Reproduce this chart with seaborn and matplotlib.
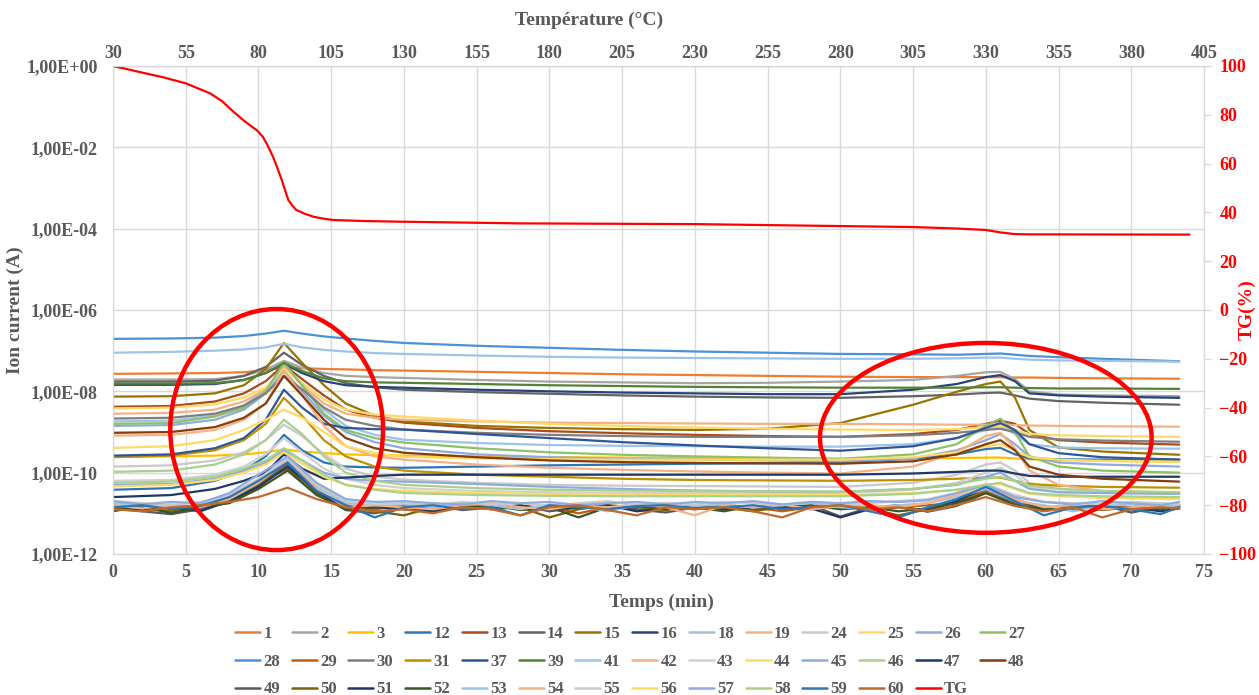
import numpy as np
import pandas as pd
import matplotlib
matplotlib.use("Agg")
import matplotlib.pyplot as plt
from matplotlib.patches import Ellipse
from matplotlib.lines import Line2D
from matplotlib.ticker import FixedLocator, NullLocator, FuncFormatter
import seaborn as sns

# ---- data (ion currents stored as log10 exponents) ----
t_smooth = [0, 4, 7, 9, 10.5, 11.75, 13, 14.5, 16, 18, 20, 25, 30, 35, 40,
            45, 50, 55, 58, 60, 61, 62, 63, 65, 68, 73.3]
t_noise = list(range(0, 73, 2)) + [73.3]

ion_28 = [-6.71, -6.70, -6.68, -6.64, -6.58, -6.51, -6.58, -6.65, -6.70, -6.76, -6.81, -6.88, -6.93, -6.98, -7.02,
          -7.05, -7.08, -7.09, -7.10, -7.08, -7.07, -7.10, -7.13, -7.16, -7.20, -7.26]
ion_41 = [-7.05, -7.03, -7.00, -6.97, -6.92, -6.83, -6.92, -6.98, -7.02, -7.06, -7.08, -7.12, -7.15, -7.17, -7.18,
          -7.19, -7.20, -7.20, -7.19, -7.17, -7.17, -7.20, -7.22, -7.24, -7.25, -7.27]
ion_1 = [-7.57, -7.56, -7.55, -7.53, -7.48, -7.42, -7.43, -7.45, -7.46, -7.48, -7.49, -7.52, -7.55, -7.58, -7.60,
         -7.62, -7.64, -7.65, -7.65, -7.65, -7.65, -7.66, -7.66, -7.67, -7.68, -7.69]
ion_2 = [-7.71, -7.71, -7.70, -7.62, -7.47, -7.25, -7.42, -7.55, -7.62, -7.65, -7.67, -7.72, -7.76, -7.78, -7.80,
         -7.79, -7.76, -7.72, -7.62, -7.53, -7.52, -7.70, -8.00, -8.08, -8.10, -8.12]
ion_14 = [-7.76, -7.76, -7.74, -7.62, -7.40, -7.05, -7.35, -7.62, -7.80, -7.90, -7.96, -8.02, -8.06, -8.10, -8.13,
          -8.15, -8.16, -8.12, -8.08, -8.04, -8.03, -8.10, -8.18, -8.24, -8.28, -8.33]
ion_39 = [-7.81, -7.81, -7.80, -7.72, -7.55, -7.30, -7.50, -7.68, -7.75, -7.78, -7.79, -7.82, -7.85, -7.87, -7.89,
          -7.90, -7.91, -7.91, -7.91, -7.90, -7.90, -7.91, -7.92, -7.93, -7.93, -7.94]
ion_16 = [-7.84, -7.84, -7.82, -7.72, -7.55, -7.32, -7.55, -7.75, -7.85, -7.89, -7.91, -7.96, -8.00, -8.03, -8.05,
          -8.07, -8.07, -7.96, -7.82, -7.65, -7.60, -7.75, -8.05, -8.10, -8.13, -8.16]
ion_15 = [-8.13, -8.12, -8.05, -7.85, -7.45, -6.81, -7.30, -7.85, -8.30, -8.60, -8.74, -8.85, -8.90, -8.93, -8.95,
          -8.92, -8.78, -8.33, -8.01, -7.82, -7.76, -8.15, -8.95, -9.38, -9.48, -9.56]
ion_13 = [-8.38, -8.36, -8.25, -8.05, -7.75, -7.35, -7.70, -8.10, -8.45, -8.65, -8.77, -8.90, -8.98, -9.03, -9.07,
          -9.10, -9.12, -9.05, -8.95, -8.80, -8.72, -8.80, -9.05, -9.20, -9.26, -9.31]
ion_19 = [-8.55, -8.53, -8.45, -8.25, -7.95, -7.40, -7.85, -8.30, -8.55, -8.65, -8.70, -8.74, -8.77, -8.78, -8.79,
          -8.80, -8.80, -8.81, -8.82, -8.82, -8.82, -8.83, -8.84, -8.85, -8.86, -8.87]
ion_25 = [-8.42, -8.40, -8.32, -8.15, -7.90, -7.45, -7.80, -8.20, -8.45, -8.57, -8.62, -8.72, -8.80, -8.85, -8.89,
          -8.92, -8.94, -8.95, -8.93, -8.88, -8.85, -8.95, -9.05, -9.08, -9.10, -9.12]
ion_30 = [-8.67, -8.65, -8.55, -8.35, -8.05, -7.62, -7.95, -8.40, -8.70, -8.85, -8.94, -9.02, -9.07, -9.10, -9.12,
          -9.12, -9.12, -9.08, -9.02, -8.95, -8.92, -9.00, -9.12, -9.18, -9.21, -9.24]
ion_18 = [-8.74, -8.72, -8.60, -8.35, -7.95, -7.35, -7.85, -8.45, -8.85, -9.07, -9.19, -9.27, -9.32, -9.34, -9.35,
          -9.36, -9.36, -9.30, -9.15, -8.95, -8.85, -9.05, -9.30, -9.38, -9.40, -9.41]
ion_26 = [-8.85, -8.83, -8.70, -8.45, -8.05, -7.50, -8.00, -8.60, -9.00, -9.25, -9.40, -9.55, -9.62, -9.66, -9.68,
          -9.70, -9.72, -9.65, -9.45, -9.20, -9.05, -9.30, -9.60, -9.75, -9.80, -9.85]
ion_27 = [-8.80, -8.78, -8.62, -8.40, -8.00, -7.30, -7.85, -8.55, -8.95, -9.15, -9.26, -9.40, -9.50, -9.56, -9.60,
          -9.63, -9.66, -9.55, -9.30, -8.85, -8.67, -9.00, -9.60, -9.85, -9.95, -10.00]
ion_37 = [-9.58, -9.55, -9.40, -9.15, -8.70, -7.96, -8.40, -8.80, -8.90, -8.93, -8.94, -9.05, -9.15, -9.25, -9.33,
          -9.40, -9.46, -9.35, -9.15, -8.90, -8.78, -8.95, -9.30, -9.52, -9.62, -9.68]
ion_48 = [-9.02, -9.00, -8.88, -8.65, -8.30, -7.62, -8.10, -8.70, -9.15, -9.40, -9.51, -9.62, -9.70, -9.74, -9.76,
          -9.77, -9.78, -9.72, -9.55, -9.30, -9.20, -9.45, -9.85, -10.05, -10.15, -10.22]
ion_42 = [-9.09, -9.07, -8.95, -8.70, -8.30, -7.50, -8.10, -8.85, -9.35, -9.60, -9.68, -9.80, -9.88, -9.93, -9.97,
          -10.00, -10.02, -9.85, -9.50, -9.10, -9.02, -9.40, -9.95, -10.30, -10.45, -10.49]
ion_44 = [-9.39, -9.35, -9.20, -8.95, -8.70, -8.45, -8.65, -9.00, -9.35, -9.52, -9.61, -9.65, -9.67, -9.68, -9.68,
          -9.68, -9.68, -9.62, -9.50, -9.35, -9.30, -9.45, -9.62, -9.68, -9.71, -9.73]
ion_3 = [-9.61, -9.60, -9.58, -9.55, -9.50, -9.43, -9.48, -9.52, -9.55, -9.57, -9.58, -9.60, -9.62, -9.63, -9.64,
         -9.65, -9.66, -9.65, -9.64, -9.63, -9.63, -9.65, -9.67, -9.69, -9.71, -9.73]
ion_31 = [-9.62, -9.58, -9.45, -9.20, -8.80, -8.16, -8.60, -9.20, -9.60, -9.85, -9.95, -10.05, -10.10, -10.15, -10.18,
          -10.19, -10.20, -10.18, -10.15, -10.12, -10.12, -10.20, -10.28, -10.32, -10.35, -10.37]
ion_24 = [-9.85, -9.82, -9.70, -9.50, -9.20, -8.82, -9.10, -9.55, -9.90, -10.10, -10.17, -10.25, -10.30, -10.32, -10.33,
          -10.34, -10.35, -10.25, -10.05, -9.80, -9.75, -9.95, -10.25, -10.40, -10.45, -10.50]
ion_46 = [-9.98, -9.95, -9.80, -9.55, -9.20, -8.70, -9.05, -9.60, -10.00, -10.20, -10.30, -10.38, -10.42, -10.44, -10.45,
          -10.46, -10.47, -10.40, -10.28, -10.15, -10.10, -10.20, -10.32, -10.40, -10.45, -10.48]
ion_12 = [-10.42, -10.38, -10.20, -9.95, -9.60, -9.07, -9.45, -9.75, -9.85, -9.87, -9.88, -9.85, -9.82, -9.80, -9.78,
          -9.77, -9.75, -9.65, -9.55, -9.42, -9.39, -9.55, -9.65, -9.67, -9.68, -9.68]
ion_45 = [-10.30, -10.28, -10.15, -9.95, -9.75, -9.45, -9.70, -10.00, -10.15, -10.20, -10.22, -10.28, -10.35, -10.40, -10.44,
          -10.46, -10.47, -10.40, -10.30, -10.10, -10.00, -10.20, -10.40, -10.48, -10.50, -10.52]
ion_58 = [-10.25, -10.22, -10.10, -9.90, -9.70, -9.40, -9.70, -10.05, -10.30, -10.42, -10.50, -10.55, -10.57, -10.58, -10.58,
          -10.58, -10.58, -10.52, -10.42, -10.30, -10.25, -10.38, -10.50, -10.55, -10.58, -10.60]
ion_56 = [-10.34, -10.30, -10.18, -10.00, -9.80, -9.50, -9.78, -10.10, -10.30, -10.40, -10.45, -10.50, -10.52, -10.54, -10.55,
          -10.55, -10.55, -10.50, -10.42, -10.30, -10.28, -10.40, -10.52, -10.58, -10.62, -10.65]
ion_47 = [-10.60, -10.55, -10.40, -10.20, -10.00, -9.55, -9.90, -10.15, -10.12, -10.08, -10.05, -10.05, -10.05, -10.05, -10.05,
          -10.05, -10.05, -10.02, -9.98, -9.95, -9.95, -10.02, -10.08, -10.10, -10.10, -10.10]
ion_43 = [-10.20, -10.18, -10.05, -9.85, -9.55, -9.15, -9.50, -9.90, -10.15, -10.30, -10.38, -10.45, -10.48, -10.50, -10.50,
          -10.50, -10.50, -10.42, -10.25, -10.00, -9.88, -10.05, -10.35, -10.48, -10.50, -10.52]

# baseline (noisy) channels, 2-min resolution
ion_29 = [-10.85, -10.9, -10.95, -10.85, -10.7, -10.35, -9.80, -10.45, -10.8, -10.9,
          -10.8, -10.95, -10.85, -10.8, -10.9, -10.85, -11.0, -10.85, -10.8, -10.85,
          -10.9, -10.8, -10.85, -10.95, -10.85, -10.8, -10.9, -10.85, -10.8, -10.75,
          -10.45, -10.7, -10.85, -10.9, -10.8, -10.85, -10.8, -10.8]
ion_49 = [-10.88, -10.95, -11.02, -10.9, -10.72, -10.3, -9.75, -10.5, -10.92, -11.0,
          -10.85, -10.8, -10.92, -10.86, -10.8, -10.95, -10.86, -10.82, -10.9, -10.98,
          -10.85, -10.8, -10.92, -10.85, -10.8, -11.08, -10.86, -10.8, -10.96, -10.82,
          -10.5, -10.75, -10.92, -10.85, -10.8, -10.98, -10.85, -10.8]
ion_50 = [-10.92, -10.85, -10.96, -10.8, -10.65, -10.25, -9.90, -10.55, -10.85, -10.95,
          -11.05, -10.85, -10.8, -10.9, -10.85, -11.1, -10.9, -10.8, -10.85, -10.92,
          -10.8, -10.86, -10.95, -10.84, -10.9, -10.8, -10.88, -11.05, -10.9, -10.7,
          -10.4, -10.72, -10.86, -10.8, -10.92, -10.85, -10.9, -10.82]
ion_51 = [-10.8, -10.92, -10.85, -10.95, -10.7, -10.35, -9.85, -10.45, -10.9, -10.85,
          -10.9, -10.95, -10.82, -10.88, -10.8, -10.9, -10.85, -10.8, -10.95, -10.88,
          -10.82, -10.9, -10.85, -10.8, -10.88, -11.1, -10.9, -10.85, -10.95, -10.7,
          -10.35, -10.65, -10.88, -10.82, -10.9, -10.85, -10.95, -10.88]
ion_52 = [-10.95, -10.82, -11.0, -10.85, -10.75, -10.4, -9.95, -10.55, -10.9, -10.85,
          -10.8, -10.9, -10.85, -10.8, -10.92, -10.85, -11.1, -10.85, -10.8, -10.9,
          -10.85, -10.95, -10.82, -10.88, -10.8, -10.9, -10.85, -10.95, -10.88, -10.75,
          -10.5, -10.8, -10.9, -10.85, -10.82, -10.9, -10.88, -10.85]
ion_53 = [-10.75, -10.8, -10.85, -10.8, -10.6, -10.2, -9.70, -10.35, -10.75, -10.8,
          -10.78, -10.85, -10.75, -10.8, -10.9, -10.78, -10.82, -10.95, -10.8, -10.75,
          -10.82, -10.78, -10.85, -10.8, -10.75, -10.85, -10.9, -10.8, -10.75, -10.6,
          -10.4, -10.7, -10.8, -10.95, -10.82, -10.78, -10.85, -10.8]
ion_54 = [-10.8, -10.88, -10.78, -10.85, -10.65, -10.25, -9.72, -10.4, -10.85, -10.8,
          -10.85, -10.9, -10.8, -10.75, -10.85, -10.9, -10.8, -10.85, -10.78, -10.85,
          -11.05, -10.8, -10.85, -10.78, -10.9, -10.82, -10.8, -10.85, -10.75, -10.55,
          -10.3, -10.65, -10.85, -10.8, -10.9, -10.85, -10.8, -10.78]
ion_55 = [-10.7, -10.75, -10.8, -10.72, -10.55, -10.15, -9.65, -10.3, -10.7, -10.78,
          -10.75, -10.8, -10.72, -10.78, -10.75, -10.82, -10.75, -10.7, -10.8, -10.75,
          -10.78, -10.72, -10.75, -10.8, -10.72, -10.78, -10.75, -10.7, -10.65, -10.5,
          -10.28, -10.55, -10.72, -10.75, -10.78, -10.72, -10.75, -10.78]
ion_57 = [-10.7, -10.78, -10.72, -10.75, -10.5, -10.05, -9.60, -10.25, -10.65, -10.72,
          -10.7, -10.75, -10.78, -10.7, -10.75, -10.72, -10.8, -10.75, -10.72, -10.78,
          -10.72, -10.75, -10.7, -10.78, -10.72, -10.75, -10.7, -10.72, -10.68, -10.5,
          -10.3, -10.6, -10.72, -10.78, -10.7, -10.75, -10.8, -10.72]
ion_59 = [-10.85, -10.8, -10.9, -10.82, -10.6, -10.2, -9.75, -10.45, -10.8, -11.1,
          -10.85, -10.8, -10.9, -10.85, -11.05, -10.8, -10.85, -10.9, -10.82, -10.8,
          -10.88, -10.85, -10.8, -10.9, -10.85, -10.8, -10.95, -11.1, -10.85, -10.65,
          -10.35, -10.7, -11.05, -10.85, -10.82, -10.9, -11.02, -10.85]
ion_60 = [-10.9, -10.95, -10.85, -10.8, -10.72, -10.6, -10.37, -10.65, -10.85, -10.95,
          -10.9, -11.0, -10.85, -10.9, -11.05, -10.85, -10.8, -10.92, -11.05, -10.85,
          -10.9, -10.85, -10.95, -11.1, -10.85, -10.8, -10.9, -10.85, -10.95, -10.8,
          -10.6, -10.82, -10.95, -10.85, -11.1, -10.9, -10.85, -10.88]

tg_time = [0, 2, 3.5, 5, 6.67, 7.5, 8.27, 9.0, 9.4, 9.9, 10.3, 10.6, 11.0, 11.3, 11.6,
           12.05, 12.3, 12.6, 13.2, 13.8, 14.4, 15.1, 17, 19.7, 28,
           40, 50, 55, 58, 60, 61, 62, 63, 74]
tg_val = [100, 97.3, 95.3, 92.9, 88.8, 85.6, 81.3, 77.6, 75.8, 73.6, 71.0, 67.8, 62.8, 58.2, 53.3,
          45.1, 43.0, 41.0, 39.4, 38.2, 37.5, 36.9, 36.5, 36.2, 35.5,
          35.2, 34.4, 34.0, 33.4, 32.8, 31.8, 31.1, 31.0, 30.9]

legend_order = ["1", "2", "3", "12", "13", "14", "15", "16", "18", "19", "24", "25", "26", "27",
                "28", "29", "30", "31", "37", "39", "41", "42", "43", "44", "45", "46", "47", "48",
                "49", "50", "51", "52", "53", "54", "55", "56", "57", "58", "59", "60"]
colors = {
    "1": "#ED7D31", "2": "#A5A5A5", "3": "#FFC000", "12": "#2E75B6", "13": "#A64D1B",
    "14": "#636363", "15": "#997300", "16": "#264478", "18": "#9DC3E6", "19": "#F4B183",
    "24": "#C9C9C9", "25": "#FFD966", "26": "#8FAADC", "27": "#8CC168", "28": "#4C92D6",
    "29": "#C55A11", "30": "#7F7F7F", "31": "#BF9000", "37": "#2F5597", "39": "#548235",
    "41": "#9DC3E6", "42": "#F4B183", "43": "#D0D0D0", "44": "#FFD966", "45": "#8FAADC",
    "46": "#A9D18E", "47": "#1F3864", "48": "#843C0C", "49": "#595959", "50": "#7F6000",
    "51": "#203864", "52": "#385723", "53": "#9DC3E6", "54": "#F4B183", "55": "#C9C9C9",
    "56": "#FFD966", "57": "#8FAADC", "58": "#A9D18E", "59": "#2E75B6", "60": "#C0692B",
}

series = {name: globals()["ion_" + name] for name in legend_order}

frames = []
for name, vals in series.items():
    t = t_smooth if len(vals) == len(t_smooth) else t_noise
    assert len(t) == len(vals), name
    frames.append(pd.DataFrame({"Temps": t, "I": 10.0 ** np.array(vals), "serie": name}))
df = pd.concat(frames, ignore_index=True)

# ---- style ----
sns.set_style("white")
plt.rcParams["font.family"] = ["Liberation Serif", "DejaVu Serif"]
plt.rcParams["font.weight"] = "bold"
GRAY = "#595959"
GRID = "#D9D9D9"
FS = 13
FS_TITLE = 14

fig, ax = plt.subplots(figsize=(12.59, 6.95), dpi=100)
fig.subplots_adjust(left=113 / 1259, right=1204 / 1259, top=1 - 66 / 695, bottom=1 - 554 / 695)

sns.lineplot(data=df, x="Temps", y="I", hue="serie", hue_order=legend_order, palette=colors,
             estimator=None, sort=False, lw=1.6, legend=False, ax=ax)
ax.set_yscale("log")
ax.set_ylim(1e-12, 1e0)
ax.set_xlim(0, 75)
ax.yaxis.set_major_locator(FixedLocator([10.0 ** k for k in range(-12, 1, 2)]))
ax.yaxis.set_minor_locator(NullLocator())
ax.yaxis.set_major_formatter(FuncFormatter(lambda v, p: "1,00E%+03d" % round(np.log10(v))))
ax.set_xticks(range(0, 76, 5))
ax.grid(True, color=GRID, lw=1)
ax.set_axisbelow(True)
ax.tick_params(axis="y", length=0, pad=11, labelsize=FS, labelcolor=GRAY)
ax.tick_params(axis="x", length=0, pad=7, labelsize=FS, labelcolor=GRAY)
ax.set_xlabel("")
ax.set_ylabel("")
for sp in ax.spines.values():
    sp.set_color(GRID)

# top temperature axis
secax = ax.secondary_xaxis("top", functions=(lambda t: 30 + 5 * np.asarray(t), lambda c: (np.asarray(c) - 30) / 5))
secax.set_xticks(range(30, 406, 25))
secax.tick_params(length=0, pad=3, labelsize=FS, labelcolor=GRAY)
secax.spines["top"].set_color(GRID)

# TG on right axis
ax2 = ax.twinx()
sns.lineplot(x=tg_time, y=tg_val, color="#FF0000", lw=1.6, ax=ax2)
ax2.set_ylim(-100, 100)
ax2.set_yticks(range(-100, 101, 20))
ax2.tick_params(axis="y", length=5, width=1, color=GRID, pad=6, labelsize=FS, labelcolor="#FF0000")
for sp in ax2.spines.values():
    sp.set_color(GRID)

# highlighted regions
for cx, cy, w, h in [(0.150, 0.255, 0.195, 0.494), (0.800, 0.238, 0.304, 0.389)]:
    ax2.add_patch(Ellipse((cx, cy), w, h, transform=ax2.transAxes, fill=False,
                          ec="#FF0000", lw=3.2, zorder=10, clip_on=False))

# axis titles
fig.text(589 / 1259, 1 - 20 / 695, "Température (°C)", ha="center", va="center", fontsize=FS_TITLE, color=GRAY, weight="bold")
fig.text(661 / 1259, 1 - 602 / 695, "Temps (min)", ha="center", va="center", fontsize=FS_TITLE, color=GRAY, weight="bold")
fig.text(15 / 1259, 1 - 310 / 695, "Ion current (A)", ha="center", va="center", rotation=90, fontsize=FS_TITLE, color=GRAY, weight="bold")
fig.text(1247 / 1259, 1 - 310 / 695, "TG(%)", ha="center", va="center", rotation=90, fontsize=FS_TITLE, color="#FF0000", weight="bold")

# legend, row-major like the original (14 columns)
labels = legend_order + ["TG"]
handles = [Line2D([], [], color=colors[n], lw=1.8) for n in legend_order] + [Line2D([], [], color="#FF0000", lw=1.8)]
ncol = 14
order = []
for c in range(ncol):
    for r in range(3):
        i = r * ncol + c
        if i < len(labels):
            order.append(i)
fig.legend([handles[i] for i in order], [labels[i] for i in order], loc="upper center",
           bbox_to_anchor=(630 / 1259, 1 - 611 / 695), ncol=ncol, frameon=False,
           handlelength=1.5, handletextpad=0.2, columnspacing=0.7, labelspacing=0.7,
           prop={"size": 12, "weight": "bold"}, labelcolor=GRAY)

fig.savefig("out.png", dpi=100)
